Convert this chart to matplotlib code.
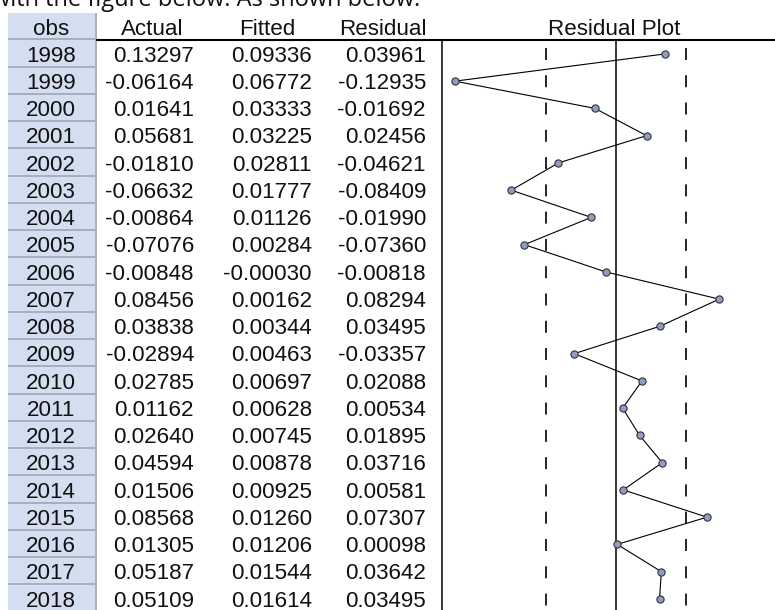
import matplotlib
matplotlib.use('Agg')
import matplotlib.pyplot as plt
from matplotlib.patches import Rectangle

plt.rcParams['font.family'] = ['Liberation Sans', 'DejaVu Sans']
plt.rcParams['lines.scale_dashes'] = False

# ---------------- data ----------------
years = [1998, 1999, 2000, 2001, 2002, 2003, 2004, 2005, 2006, 2007, 2008,
         2009, 2010, 2011, 2012, 2013, 2014, 2015, 2016, 2017, 2018]
actual = [0.13297, -0.06164, 0.01641, 0.05681, -0.01810, -0.06632, -0.00864,
          -0.07076, -0.00848, 0.08456, 0.03838, -0.02894, 0.02785, 0.01162,
          0.02640, 0.04594, 0.01506, 0.08568, 0.01305, 0.05187, 0.05109]
fitted = [0.09336, 0.06772, 0.03333, 0.03225, 0.02811, 0.01777, 0.01126,
          0.00284, -0.00030, 0.00162, 0.00344, 0.00463, 0.00697, 0.00628,
          0.00745, 0.00878, 0.00925, 0.01260, 0.01206, 0.01544, 0.01614]
residual = [0.03961, -0.12935, -0.01692, 0.02456, -0.04621, -0.08409, -0.01990,
            -0.07360, -0.00818, 0.08294, 0.03495, -0.03357, 0.02088, 0.00534,
            0.01895, 0.03716, 0.00581, 0.07307, 0.00098, 0.03642, 0.03495]
headers = ['obs', 'Actual', 'Fitted', 'Residual', 'Residual Plot']
se_regression = 0.0562
caption_tail = 'with the figure below. As shown below.'

# ---------------- layout (pixels) ----------------
W, H = 775, 610
row0, rowh = 53.9, 27.25
hdr_base = 35
col_center = [51, 152, 267, 383, 614]
col_right = [194, 312, 426]
plot_left, plot_zero, px_per_unit = 442, 616, 1245
line_top = 40
fs = 16.1

fig = plt.figure(figsize=(W / 100, H / 100), dpi=100)
ax = fig.add_axes([0, 0, 1, 1])
ax.set_xlim(0, W)
ax.set_ylim(H, 0)
ax.axis('off')


def ry(i):
    return row0 + i * rowh


# clipped caption line at the very top
ax.text(-8, 6, caption_tail, fontsize=17, family=['Open Sans', 'DejaVu Sans'],
        color='#111111', va='baseline', ha='left')

# obs column cells
cell_face = '#d3dff1'
sep_col = '#a3adbd'
ax.add_patch(Rectangle((8, 13), 87, 25, facecolor=cell_face, edgecolor='none'))
ax.hlines(39, 8, 95, color=sep_col, lw=1.4)
for i, yv in enumerate(years):
    top = ry(i) - rowh / 2
    ax.add_patch(Rectangle((8, top), 87, rowh - 2, facecolor=cell_face,
                           edgecolor='none'))
    ax.hlines(top + rowh - 1, 8, 95, color=sep_col, lw=1.4)
    ax.text(col_center[0], ry(i) + 7.8, str(yv), fontsize=fs, ha='center',
            va='baseline', color='#111111')
    for j, arr in enumerate([actual, fitted, residual]):
        ax.text(col_right[j], ry(i) + 7.8, f'{arr[i]:.5f}', fontsize=fs,
                ha='right', va='baseline', color='#111111')

# vertical grey separator after obs column
ax.vlines(96, 13, H, color='#9aa2ae', lw=1.2)
# header underline
ax.hlines(line_top, 96, W, color='black', lw=1.5)

for j, h in enumerate(headers):
    ax.text(col_center[j], hdr_base, h, fontsize=fs, ha='center',
            va='baseline', color='#111111')

# ---------------- residual plot ----------------
axr = fig.add_axes([plot_left / W, 0, (W - plot_left) / W, (H - line_top) / H])
axr.patch.set_visible(False)
xl = (plot_left - plot_zero) / px_per_unit
xr = (W - plot_zero) / px_per_unit
axr.set_xlim(xl, xr)
ytop = (line_top - row0) / rowh
ybot = (H - row0) / rowh
axr.set_ylim(ybot, ytop)
for s in ['top', 'right', 'bottom']:
    axr.spines[s].set_visible(False)
axr.spines['left'].set_linewidth(1.1)
axr.set_xticks([])
axr.set_yticks([])

axr.plot([0, 0], [ytop, ybot], color='black', lw=1.1)
for v in (-se_regression, se_regression):
    axr.plot([v, v], [ytop, ybot], color='black', lw=1.2,
             linestyle=(13.9, (8.64, 11.0)))
n = list(range(len(residual)))
axr.plot(residual, n, color='black', lw=0.8, marker='o', markersize=5.2,
         markerfacecolor='#8e9cc6', markeredgecolor='#333333',
         markeredgewidth=0.8, clip_on=False)

fig.savefig('out.png', dpi=100)
